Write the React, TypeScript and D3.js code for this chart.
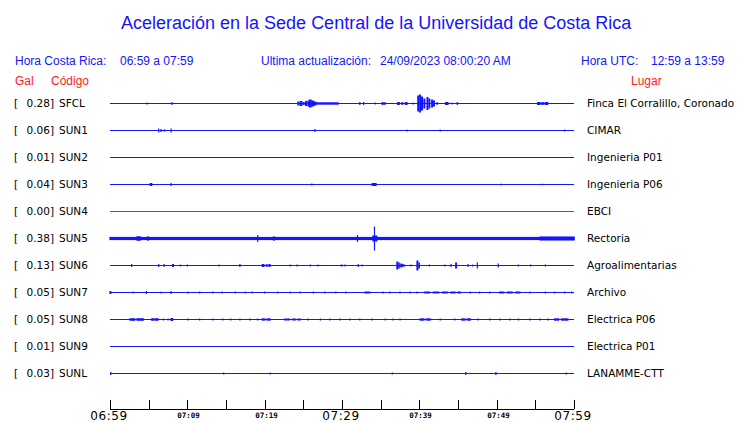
import React from 'react';
import * as d3 from 'd3';

const title = 'Aceleración en la Sede Central de la Universidad de Costa Rica';
const codes = ['SFCL', 'SUN1', 'SUN2', 'SUN3', 'SUN4', 'SUN5', 'SUN6', 'SUN7', 'SUN8', 'SUN9', 'SUNL'];
const peaks = ['0.28', '0.06', '0.01', '0.04', '0.00', '0.38', '0.13', '0.05', '0.05', '0.01', '0.03'];
const places = [
  'Finca El Corralillo, Coronado', 'CIMAR', 'Ingenieria P01', 'Ingenieria P06', 'EBCI', 'Rectoria',
  'Agroalimentarias', 'Archivo', 'Electrica P06', 'Electrica P01', 'LANAMME-CTT',
];
const offline = ['SUN4'];

// minutes since 06:59
const tickMinutes = [0, 5, 10, 15, 20, 25, 30, 35, 40, 45, 50, 55, 60];
const tickLabels = ['06:59', '', '07:09', '', '07:19', '', '07:29', '', '07:39', '', '07:49', '', '07:59'];
const bigLabels = ['06:59', '07:29', '07:59'];

// activity segments per station: [startMin, endMin, amplitude]
const evSFCL = [
  [4.8, 4.8, 1], [8.0, 8.0, 1.5],
  [24.3, 24.4, 2], [24.6, 24.8, 2.5], [25.0, 25.1, 1.5], [25.3, 25.4, 2.5], [25.6, 25.7, 3], [25.8, 26.0, 4],
  [26.1, 26.3, 3], [26.4, 26.6, 2], [26.6, 29.5, 1.2],
  [32.3, 32.3, 1.5], [32.8, 32.8, 1.5], [34.3, 34.3, 1], [35.2, 35.3, 1.5], [35.5, 35.6, 1.2],
  [37.2, 37.4, 1.5], [37.7, 37.9, 1.2], [38.2, 38.4, 1.5], [39.2, 39.2, 1],
  [39.8, 39.9, 8], [40.05, 40.15, 9], [40.3, 40.4, 7], [40.6, 40.7, 5], [41.0, 41.1, 6.5], [41.25, 41.35, 5],
  [41.6, 41.7, 4], [41.85, 41.95, 3], [42.3, 42.3, 1.5], [43.4, 43.7, 1.5], [44.2, 44.2, 1], [44.9, 44.9, 1.5],
  [55.3, 55.6, 1.5], [55.8, 56.1, 1.3], [56.3, 56.6, 1.5],
];
const evSUN1 = [
  [6.3, 6.3, 2], [6.6, 6.6, 1.5], [7.0, 7.1, 1], [7.9, 7.9, 2], [26.5, 26.5, 1.5],
  [38.4, 38.4, 1], [42.7, 42.7, 1], [58.8, 58.8, 1],
];
const evSUN2: number[][] = [];
const evSUN3 = [
  [5.2, 5.4, 1.5], [7.9, 7.9, 1.5], [26.1, 26.1, 1], [33.9, 34.4, 1.5], [50.6, 50.6, 0.8], [55.9, 55.9, 0.8],
];
const evSUN4: number[][] = [];
const evSUN5 = [
  [0, 60, 1.6], [3.5, 3.9, 2.3], [4.9, 4.9, 2.5], [19.1, 19.1, 3.5], [21.2, 21.2, 2.5],
  [32.0, 32.0, 3.5], [34.0, 34.5, 3], [34.2, 34.2, 12], [55.6, 60, 2],
];
const evSUN6 = [
  [2.8, 2.8, 1.5], [6.3, 6.3, 1.5], [7.0, 7.0, 1.5], [8.1, 8.2, 1.5], [9.1, 9.1, 1], [10.0, 10.0, 1],
  [14.1, 14.1, 1], [16.8, 16.8, 1.5], [19.7, 19.9, 1.5], [20.2, 20.4, 1.2], [20.6, 20.7, 1.5], [23.3, 23.3, 1],
  [24.2, 24.2, 1], [25.9, 25.9, 1], [26.9, 26.9, 1], [29.9, 30.0, 1], [30.4, 30.4, 1], [32.1, 32.1, 1.5],
  [32.6, 32.6, 1], [37.1, 37.2, 4], [37.35, 37.4, 3], [37.6, 37.7, 2], [37.85, 37.9, 1.5], [38.1, 38.1, 1],
  [38.9, 38.9, 1], [39.7, 39.8, 5], [39.95, 40.0, 3], [41.3, 41.3, 1], [43.3, 43.3, 1],
  [44.1, 44.1, 1.5], [44.7, 44.8, 3], [46.3, 46.3, 1.5], [46.9, 46.9, 1], [47.5, 47.5, 3], [50.2, 50.2, 2],
  [52.8, 52.8, 1], [54.4, 54.4, 1], [56.3, 56.3, 1],
];
const evSUN7 = [
  [0.0, 0.1, 1.5], [3.0, 3.0, 1], [4.7, 4.7, 1.5], [6.6, 6.6, 1], [7.9, 7.9, 1.5], [10.1, 10.1, 1],
  [11.6, 11.6, 1], [13.3, 13.3, 1], [14.5, 14.5, 1], [16.2, 16.2, 1], [17.5, 17.5, 1], [18.4, 18.4, 1],
  [20.0, 20.0, 1], [21.7, 21.7, 1], [23.3, 23.3, 1], [24.6, 24.6, 1], [26.3, 26.3, 1], [27.8, 27.8, 1],
  [29.2, 29.2, 1], [30.5, 30.5, 1], [33.0, 33.6, 1], [35.3, 35.3, 1], [36.2, 36.2, 1], [37.5, 37.5, 1],
  [38.8, 38.8, 1], [39.7, 39.7, 1], [40.7, 41.3, 1], [41.8, 42.5, 1], [43.0, 43.6, 1], [44.1, 44.6, 1],
  [45.0, 45.3, 1], [46.6, 46.6, 1], [47.8, 47.8, 1], [49.1, 49.1, 1],
  [50.4, 50.9, 1], [51.4, 52.0, 1], [52.5, 53.0, 1], [54.3, 54.3, 1], [56.3, 56.3, 1], [57.5, 57.5, 1],
  [58.8, 58.8, 1], [59.7, 59.7, 1],
];
const evSUN8 = [
  [2.6, 3.2, 1.3], [3.5, 4.3, 1.3], [5.4, 5.7, 1.3], [5.9, 6.2, 1.3], [6.9, 6.9, 1], [7.5, 7.5, 1],
  [7.9, 8.1, 1.5], [10.1, 10.1, 1], [11.6, 11.6, 1], [13.3, 13.3, 1], [14.6, 14.6, 1], [15.6, 15.6, 1],
  [16.8, 16.8, 1], [18.1, 18.1, 1], [19.1, 19.1, 1], [19.7, 20.0, 1.2], [20.3, 20.7, 1.2],
  [22.6, 23.2, 1], [23.6, 24.0, 1], [24.3, 24.6, 1], [25.6, 25.6, 1], [27.2, 27.2, 1], [28.4, 28.4, 1],
  [29.7, 29.7, 1], [31.0, 31.0, 1], [32.3, 32.3, 1], [33.9, 33.9, 1], [35.6, 35.6, 1], [36.6, 36.6, 1],
  [37.5, 37.5, 1], [40.1, 40.6, 1.2], [40.9, 41.4, 1.2], [42.7, 42.7, 1], [44.6, 44.6, 1],
  [45.5, 45.9, 1.2], [46.2, 46.6, 1.2], [47.6, 47.6, 1], [49.1, 49.1, 1], [50.4, 50.4, 1], [51.7, 51.7, 1],
  [52.8, 52.8, 1], [54.3, 54.3, 1], [55.6, 55.6, 1], [56.6, 56.6, 1], [57.5, 58.0, 1.2], [58.4, 59.2, 1.2],
];
const evSUN9: number[][] = [];
const evSUNL = [
  [0.1, 0.1, 1.5], [14.7, 14.7, 1], [20.7, 20.7, 1], [36.5, 36.5, 1], [46.0, 46.0, 1.5], [49.9, 49.9, 1.5], [59.0, 59.0, 1],
];
const events = [evSFCL, evSUN1, evSUN2, evSUN3, evSUN4, evSUN5, evSUN6, evSUN7, evSUN8, evSUN9, evSUNL];

const BLUE = '#1414ff';
const RED = '#ff1a1a';
const SANS = '"Liberation Sans", Arial, sans-serif';
const DEJAVU = '"DejaVu Sans", sans-serif';

export default function App() {
  const x = d3.scaleLinear().domain([0, 60]).range([110, 574]);
  const y = d3.scalePoint<string>().domain(codes).range([103, 373]);
  const amp = d3.scaleLinear().domain([0, 1]).range([0, 1]);
  const axisY = 409;

  return (
    <svg width={740} height={423} style={{ position: 'absolute', left: 0, top: 0, background: '#fff' }}>
      <rect width={740} height={423} fill="#fff" />
      <text x={121} y={29} fontFamily={SANS} fontSize={18} fill={BLUE}>{title}</text>

      <g fontFamily={SANS} fontSize={12} fill={BLUE}>
        <text x={15} y={65}>Hora Costa Rica:</text>
        <text x={120} y={65}>06:59 a 07:59</text>
        <text x={261} y={65}>Ultima actualización:</text>
        <text x={380} y={65}>24/09/2023 08:00:20 AM</text>
        <text x={581} y={65}>Hora UTC:</text>
        <text x={651} y={65}>12:59 a 13:59</text>
      </g>
      <g fontFamily={SANS} fontSize={12} fill={RED}>
        <text x={15} y={85}>Gal</text>
        <text x={51} y={85}>Código</text>
        <text x={631} y={85}>Lugar</text>
      </g>

      {codes.map((c, i) => {
        const cy = y(c) as number;
        const color = offline.includes(c) ? RED : BLUE;
        return (
          <g key={c}>
            <g fontFamily={DEJAVU} fontSize={10.5} fill="#000">
              <text x={14} y={cy + 4}>[</text>
              <text x={54} y={cy + 4} textAnchor="end">{peaks[i] + ']'}</text>
              <text x={59} y={cy + 4}>{c}</text>
              <text x={587} y={cy + 4}>{places[i]}</text>
            </g>
            <line x1={x(0)} x2={x(60)} y1={cy + 0.5} y2={cy + 0.5} stroke={color} strokeWidth={1} />
            {events[i].map((e, k) => {
              const x0 = x(e[0]);
              const x1 = x(e[1]);
              const a = amp(e[2]);
              return (
                <rect key={k} x={x0 - 0.6} y={cy + 0.5 - a} width={Math.max(1.2, x1 - x0 + 1.2)} height={2 * a} fill={color} />
              );
            })}
          </g>
        );
      })}

      <line x1={x(0)} x2={x(60)} y1={axisY + 0.5} y2={axisY + 0.5} stroke="#000" strokeWidth={1} />
      {tickMinutes.map((m, i) => {
        const tx = Math.round(x(m)) + 0.5;
        const lab = tickLabels[i];
        const big = bigLabels.includes(lab);
        return (
          <g key={m}>
            <line x1={tx} x2={tx} y1={400} y2={axisY} stroke="#000" strokeWidth={1} />
            {lab && (big ? (
              <text x={tx - 1.5} y={420} textAnchor="middle" fontFamily={DEJAVU} fontSize={12} letterSpacing={0.6} fill="#000">{lab}</text>
            ) : (
              <text x={tx + 1} y={417.5} textAnchor="middle" fontFamily='"DejaVu Sans Mono", monospace' fontSize={7.5} fontWeight="bold" fill="#000">{lab}</text>
            ))}
          </g>
        );
      })}
    </svg>
  );
}
